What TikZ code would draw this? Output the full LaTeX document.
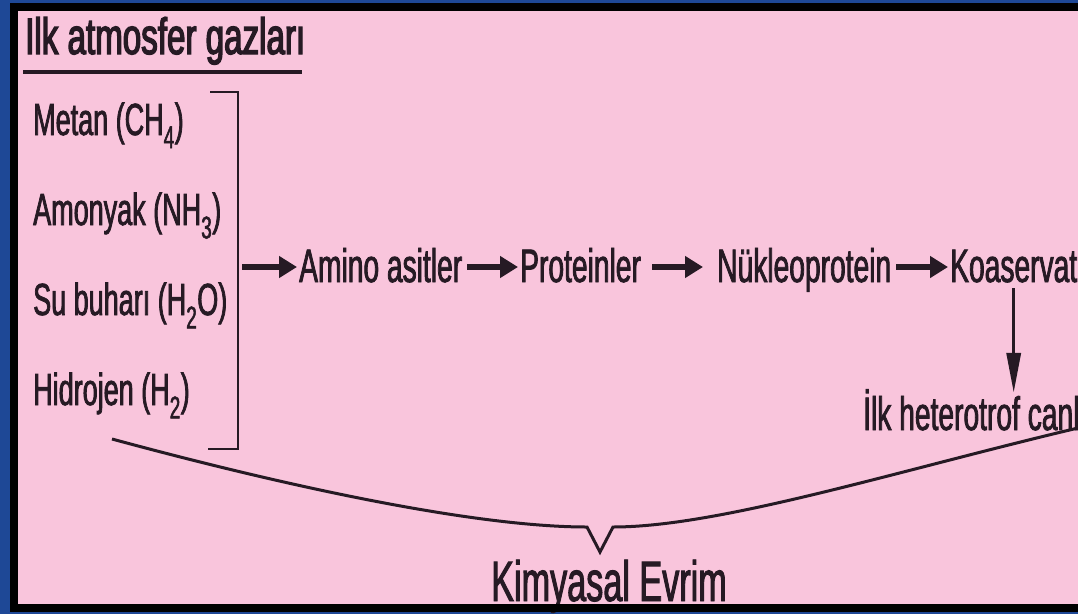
\documentclass[tikz,border=0pt]{standalone}
\usepackage{fontspec}
\setmainfont{Liberation Sans}[FakeStretch=0.6, FakeBold=1.6]
\newfontfamily\titlefont{Liberation Sans}[FakeStretch=0.65, FakeBold=2.6]
\usetikzlibrary{arrows.meta}

\definecolor{bgblue}{RGB}{30,72,150}
\definecolor{cardpink}{RGB}{249,197,220}
\definecolor{ink}{RGB}{38,26,36}

\tikzset{
    gas/.style={anchor=base west, inner sep=0pt, text=ink, font=\fontsize{45}{50}\selectfont},
    stage/.style={anchor=base west, inner sep=0pt, text=ink, text height=34pt, text depth=4pt,
        font=\fontsize{47}{52}\selectfont},
    flow/.style={draw=ink, line width=5.5pt, -{Triangle[length=18pt,width=21pt]}},
    drop/.style={draw=ink, line width=3.5pt, -{Triangle[length=40pt,width=14pt]}},
    rule/.style={draw=ink, line width=3pt},
}

\begin{document}
\begin{tikzpicture}[x=1pt,y=-1pt]
            \useasboundingbox (0,0) rectangle (1078,614);
            % card
            \fill[bgblue] (0,0) rectangle (1078,614);
            \fill[black] (10,3) rectangle (1078,612);
            \fill[cardpink] (18,11) rectangle (1078,604);

            % title
            \node[anchor=base west, inner sep=0pt, text=ink, font=\titlefont\fontsize{51}{55}\selectfont] (title) at (25,54) {Ilk atmosfer gazları};
            \draw[rule, line width=3.5pt] (23,72) -- (302,72);

            % gases
            \node[gas] (metan) at (33,135) {Metan (CH\textsubscript{4})};
            \node[gas] (amonyak) at (33,225) {Amonyak (NH\textsubscript{3})};
            \node[gas] (su) at (33,315) {Su buharı (H\textsubscript{2}O)};
            \node[gas] (hidrojen) at (33,405) {Hidrojen (H\textsubscript{2})};

            \draw[rule, line width=2pt] (210,92) -- (238,92) -- (238,449) -- (208,449);
            \coordinate (brk) at (238,267);

            % chain
            \node[stage] (amino) at (299,282) {Amino asitler};
            \node[stage] (protein) at (520,282) {Proteinler};
            \node[stage] (nukleo) at (717,282) {Nükleoprotein};
            \node[stage] (koaservat) at (950,282) {Koaservat};
            \node[stage, text height=37pt] (heterotrof) at (863,430) {İlk heterotrof canlı};

            \draw[flow] ([xshift=4pt]brk) -- ([xshift=-2pt]amino.west);
            \draw[flow] ([xshift=5pt]amino.east) -- ([xshift=-2pt]protein.west);
            \draw[flow] ([xshift=11pt]protein.east) -- ([xshift=-14pt]nukleo.west);
            \draw[flow] ([xshift=5pt]nukleo.east) -- ([xshift=-2pt]koaservat.west);
            \draw[drop] ([yshift=-2pt]koaservat.south) -- (koaservat.south |- heterotrof.north);

            % brace
            \draw[rule] (112,439) .. controls (300,490) and (480,527) .. (587,527)
                -- (600,552) -- (613,527) .. controls (720,527) and (900,470) .. (1078,428);
            \node[anchor=base west, inner sep=0pt, text=ink, font=\fontsize{57}{60}\selectfont] (evrim) at (491,601) {Kimyasal Evrim};
            \fill[black] (10,604) rectangle (1078,612);

        \end{tikzpicture}
\end{document}
